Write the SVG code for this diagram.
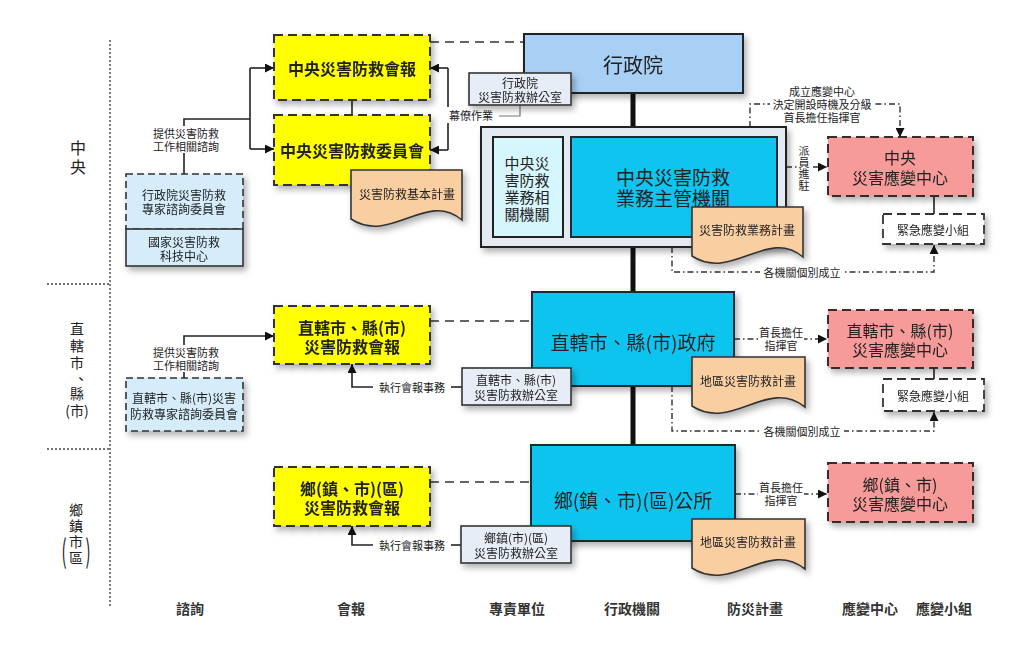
<svg xmlns="http://www.w3.org/2000/svg" width="1024" height="661" viewBox="0 0 1024 661">
<style>
text{font-family:"Noto Sans CJK TC","Noto Sans CJK SC","Noto Sans CJK JP",sans-serif;fill:#222;text-anchor:middle;dominant-baseline:central}
.yel{fill:#ffff00;stroke:#333;stroke-width:2;stroke-dasharray:9,5}
.yt{font-size:16px;font-weight:bold}
.adv{fill:#d5ecfb;stroke:#333;stroke-width:1.6}
.dsh{stroke-dasharray:7,4}
.off{fill:#e6edf7;stroke:#333;stroke-width:1.6}
.gov{fill:#0fc4ef;stroke:#1e2a36;stroke-width:2}
.doc{fill:#f9cfa2;stroke:#333;stroke-width:1.6}
.rc{fill:#f79a9a;stroke:#3a2a2a;stroke-width:2;stroke-dasharray:9,5}
.team{fill:#fff;stroke:#333;stroke-width:1.8;stroke-dasharray:9,5}
.s11{font-size:11px}
.s12{font-size:12px}
.s15{font-size:15px}
.s16{font-size:16px}
.s19{font-size:19px}
.rl{font-size:14px}
.lbl{font-size:14px;font-weight:bold;fill:#333}
.sol{fill:none;stroke:#222;stroke-width:1.6}
.thin{fill:none;stroke:#777;stroke-width:1.2}
.dl{fill:none;stroke:#333;stroke-width:1.6;stroke-dasharray:9,6}
.dd{fill:none;stroke:#333;stroke-width:1.4;stroke-dasharray:6,3,1.5,3}
.thick{stroke:#111;stroke-width:5}
.dot{fill:none;stroke:#444;stroke-width:1.4;stroke-dasharray:2,2}
.wb{fill:#fff}
</style>
<defs>
<marker id="ah" viewBox="0 0 10 10" refX="10" refY="5" markerWidth="9" markerHeight="9" markerUnits="userSpaceOnUse" orient="auto"><path d="M0,0 L10,5 L0,10 z" fill="#111"/></marker>
<filter id="sh" x="-10%" y="-10%" width="130%" height="145%"><feDropShadow dx="3" dy="4" stdDeviation="3" flood-color="#000" flood-opacity="0.3"/></filter>
</defs>
<rect width="1024" height="661" fill="#fff"/>

<g id="frame">
<path class="dot" d="M110,40 V607 M47,284 H110 M47,449 H110"/>
<text class="s16" x="78" y="147">中</text>
<text class="s16" x="78" y="166">央</text>
<text class="rl" x="77" y="328">直</text>
<text class="rl" x="77" y="345">轄</text>
<text class="rl" x="77" y="362">市</text>
<text class="rl" x="81" y="378">、</text>
<text class="rl" x="77" y="393">縣</text>
<text class="rl" x="77" y="410">(市)</text>
<text class="rl" x="76" y="509">鄉</text>
<text class="rl" x="76" y="525">鎮</text>
<text class="rl" x="76" y="541">市</text>
<text class="rl" x="76" y="557">區</text>
<text x="64" y="0" style="font-size:15px" transform="translate(0,549) scale(1,2.1)">(</text>
<text x="88" y="0" style="font-size:15px" transform="translate(0,549) scale(1,2.1)">)</text>
<text class="lbl" x="190" y="608">諮詢</text>
<text class="lbl" x="351" y="608">會報</text>
<text class="lbl" x="517" y="608">專責單位</text>
<text class="lbl" x="632" y="608">行政機關</text>
<text class="lbl" x="755" y="608">防災計畫</text>
<text class="lbl" x="870" y="608">應變中心</text>
<text class="lbl" x="944" y="608">應變小組</text>
</g>

<g id="connectors">
<line class="thick" x1="633" y1="93" x2="633" y2="127"/>
<line class="thick" x1="633" y1="247" x2="633" y2="292"/>
<line class="thick" x1="633" y1="386" x2="633" y2="445"/>
<path class="dl" d="M430,42 H524 M430,321 H532 M430,482 H531"/>
<line class="sol" x1="352" y1="100" x2="352" y2="115"/>
<path class="sol" d="M184,174 V119 H250 V149 M250,68 V119"/>
<path class="sol" marker-end="url(#ah)" d="M250,68 H274"/>
<path class="sol" marker-end="url(#ah)" d="M250,149 H274"/>
<rect class="wb" x="148" y="126" width="76" height="27"/>
<text class="s11" x="186" y="133">提供災害防救</text>
<text class="s11" x="186" y="146">工作相關諮詢</text>
<path class="sol" d="M448,68 V150"/>
<path class="sol" marker-end="url(#ah)" d="M448,68 H430"/>
<path class="sol" marker-end="url(#ah)" d="M448,150 H430"/>
<rect class="wb" x="445" y="107" width="52" height="16"/>
<text class="s11" x="471" y="115">幕僚作業</text>
<path class="thin" d="M499,116 H520 V105"/>
<path class="sol" marker-end="url(#ah)" d="M184,378 V336 H274"/>
<rect class="wb" x="148" y="345" width="76" height="27"/>
<text class="s11" x="186" y="352">提供災害防救</text>
<text class="s11" x="186" y="365">工作相關諮詢</text>
<path class="sol" marker-end="url(#ah)" d="M373,387 H352 V364"/>
<text class="s11" x="412" y="387">執行會報事務</text>
<path class="sol" d="M451,387 H462"/>
<path class="sol" marker-end="url(#ah)" d="M373,545 H352 V526"/>
<text class="s11" x="412" y="545">執行會報事務</text>
<path class="sol" d="M451,545 H461"/>
<path class="dd" marker-end="url(#ah)" d="M750,127 V104 H900 V137"/>
<rect class="wb" x="770" y="84" width="104" height="39"/>
<text class="s11" x="822" y="91">成立應變中心</text>
<text class="s11" x="822" y="104">決定開設時機及分級</text>
<text class="s11" x="822" y="117">首長擔任指揮官</text>
<path class="dd" marker-end="url(#ah)" d="M786,167 H827"/>
<rect class="wb" x="798" y="144" width="13" height="47"/>
<text class="s11" x="804" y="150">派</text>
<text class="s11" x="804" y="161.5">員</text>
<text class="s11" x="804" y="173">進</text>
<text class="s11" x="804" y="184.5">駐</text>
<line class="sol" x1="934" y1="196" x2="934" y2="214"/>
<path class="dd" marker-end="url(#ah)" d="M672,247 V272 H934 V245"/>
<rect class="wb" x="760" y="265" width="84" height="14"/>
<text class="s11" x="802" y="272">各機關個別成立</text>
<path class="dd" marker-end="url(#ah)" d="M734,339 H827"/>
<rect class="wb" x="758" y="325" width="46" height="27"/>
<text class="s11" x="781" y="332">首長擔任</text>
<text class="s11" x="781" y="345">指揮官</text>
<line class="sol" x1="934" y1="368" x2="934" y2="379"/>
<path class="dd" marker-end="url(#ah)" d="M672,386 V431 H934 V412"/>
<rect class="wb" x="760" y="424" width="84" height="14"/>
<text class="s11" x="802" y="431">各機關個別成立</text>
<path class="dd" marker-end="url(#ah)" d="M735,494 H827"/>
<rect class="wb" x="758" y="480" width="46" height="27"/>
<text class="s11" x="781" y="487">首長擔任</text>
<text class="s11" x="781" y="500">指揮官</text>
</g>

<g id="n-cbr" filter="url(#sh)"><rect class="yel" x="274" y="35" width="156" height="65"/><text class="yt" x="352" y="68">中央災害防救會報</text></g>
<g id="n-ccm" filter="url(#sh)"><rect class="yel" x="274" y="115" width="156" height="70"/><text class="yt" x="352" y="150">中央災害防救委員會</text></g>
<g id="n-doc1" filter="url(#sh)"><path class="doc" transform="translate(351,170)" d="M0,0 H111 V50 C75,20 40,75 0,49 Z"/><text class="s12" x="407" y="193">災害防救基本計畫</text></g>
<g id="n-cadv" filter="url(#sh)">
<rect class="adv dsh" x="126" y="174" width="117" height="55"/>
<rect class="adv" x="126" y="229" width="117" height="37"/>
<text class="s12" x="184" y="194">行政院災害防救</text>
<text class="s12" x="184" y="208">專家諮詢委員會</text>
<text class="s12" x="184" y="241">國家災害防救</text>
<text class="s12" x="184" y="255">科技中心</text>
</g>
<g id="n-ey" filter="url(#sh)"><rect x="524" y="34" width="219" height="59" fill="#a8d0f4" stroke="#222" stroke-width="2"/><text x="633" y="64" style="font-size:20px">行政院</text></g>
<g id="n-eyo" filter="url(#sh)"><rect class="off" x="469" y="73" width="102" height="32"/><text class="s12" x="520" y="82">行政院</text><text class="s12" x="520" y="96">災害防救辦公室</text></g>
<g id="n-cont" filter="url(#sh)"><rect x="481" y="127" width="305" height="120" fill="#e4eaf1" stroke="#222" stroke-width="2"/></g>
<g id="n-rel"><rect x="493" y="137" width="70" height="100" fill="#d6f6fd" stroke="#222" stroke-width="2"/>
<text class="s15" x="527" y="162">中央災</text><text class="s15" x="527" y="179">害防救</text><text class="s15" x="527" y="196">業務相</text><text class="s15" x="527" y="213">關機關</text></g>
<g id="n-main"><rect class="gov" x="571" y="137" width="206" height="100"/><text class="s19" x="673" y="176">中央災害防救</text><text class="s19" x="673" y="197">業務主管機關</text></g>
<g id="n-doc2" filter="url(#sh)"><path class="doc" transform="translate(692,207)" d="M0,0 H111 V50 C75,20 40,75 0,49 Z"/><text class="s12" x="747" y="229">災害防救業務計畫</text></g>
<g id="n-crc" filter="url(#sh)"><rect class="rc" x="828" y="137" width="145" height="59"/><text class="s16" x="900" y="157">中央</text><text class="s16" x="900" y="177">災害應變中心</text></g>
<g id="n-ct" filter="url(#sh)"><rect class="team" x="883" y="214" width="101" height="30"/><text class="s12" x="933" y="229">緊急應變小組</text></g>

<g id="n-mbr" filter="url(#sh)"><rect class="yel" x="274" y="306" width="156" height="58"/><text class="yt" x="352" y="327">直轄市、縣(市)</text><text class="yt" x="352" y="346">災害防救會報</text></g>
<g id="n-madv" filter="url(#sh)"><rect class="adv dsh" x="126" y="378" width="117" height="53"/><text class="s12" x="184" y="397">直轄市、縣(市)災害</text><text class="s12" x="184" y="413">防救專家諮詢委員會</text></g>
<g id="n-mgov" filter="url(#sh)"><rect class="gov" x="532" y="292" width="202" height="94"/><text class="s19" x="633" y="341">直轄市、縣(市)政府</text></g>
<g id="n-moff" filter="url(#sh)"><rect class="off" x="462" y="368" width="109" height="37"/><text class="s12" x="516" y="379">直轄市、縣(市)</text><text class="s12" x="516" y="394">災害防救辦公室</text></g>
<g id="n-doc3" filter="url(#sh)"><path class="doc" transform="translate(692,357)" d="M0,0 H113 V50 C75,20 40,75 0,49 Z"/><text class="s12" x="748" y="380">地區災害防救計畫</text></g>
<g id="n-mrc" filter="url(#sh)"><rect class="rc" x="828" y="310" width="145" height="58"/><text class="s16" x="900" y="330">直轄市、縣(市)</text><text class="s16" x="900" y="349">災害應變中心</text></g>
<g id="n-mt" filter="url(#sh)"><rect class="team" x="883" y="379" width="101" height="32"/><text class="s12" x="933" y="395">緊急應變小組</text></g>

<g id="n-tbr" filter="url(#sh)"><rect class="yel" x="274" y="467" width="156" height="59"/><text class="yt" x="352" y="488">鄉(鎮、市)(區)</text><text class="yt" x="352" y="507">災害防救會報</text></g>
<g id="n-tgov" filter="url(#sh)"><rect class="gov" x="531" y="445" width="204" height="96"/><text class="s19" x="633" y="499">鄉(鎮、市)(區)公所</text></g>
<g id="n-toff" filter="url(#sh)"><rect class="off" x="461" y="526" width="110" height="37"/><text class="s12" x="516" y="537">鄉鎮(市)(區)</text><text class="s12" x="516" y="552">災害防救辦公室</text></g>
<g id="n-doc4" filter="url(#sh)"><path class="doc" transform="translate(692,519)" d="M0,0 H113 V50 C75,20 40,75 0,49 Z"/><text class="s12" x="748" y="541">地區災害防救計畫</text></g>
<g id="n-trc" filter="url(#sh)"><rect class="rc" x="828" y="463" width="145" height="59"/><text class="s16" x="900" y="484">鄉(鎮、市)</text><text class="s16" x="900" y="503">災害應變中心</text></g>
</svg>
